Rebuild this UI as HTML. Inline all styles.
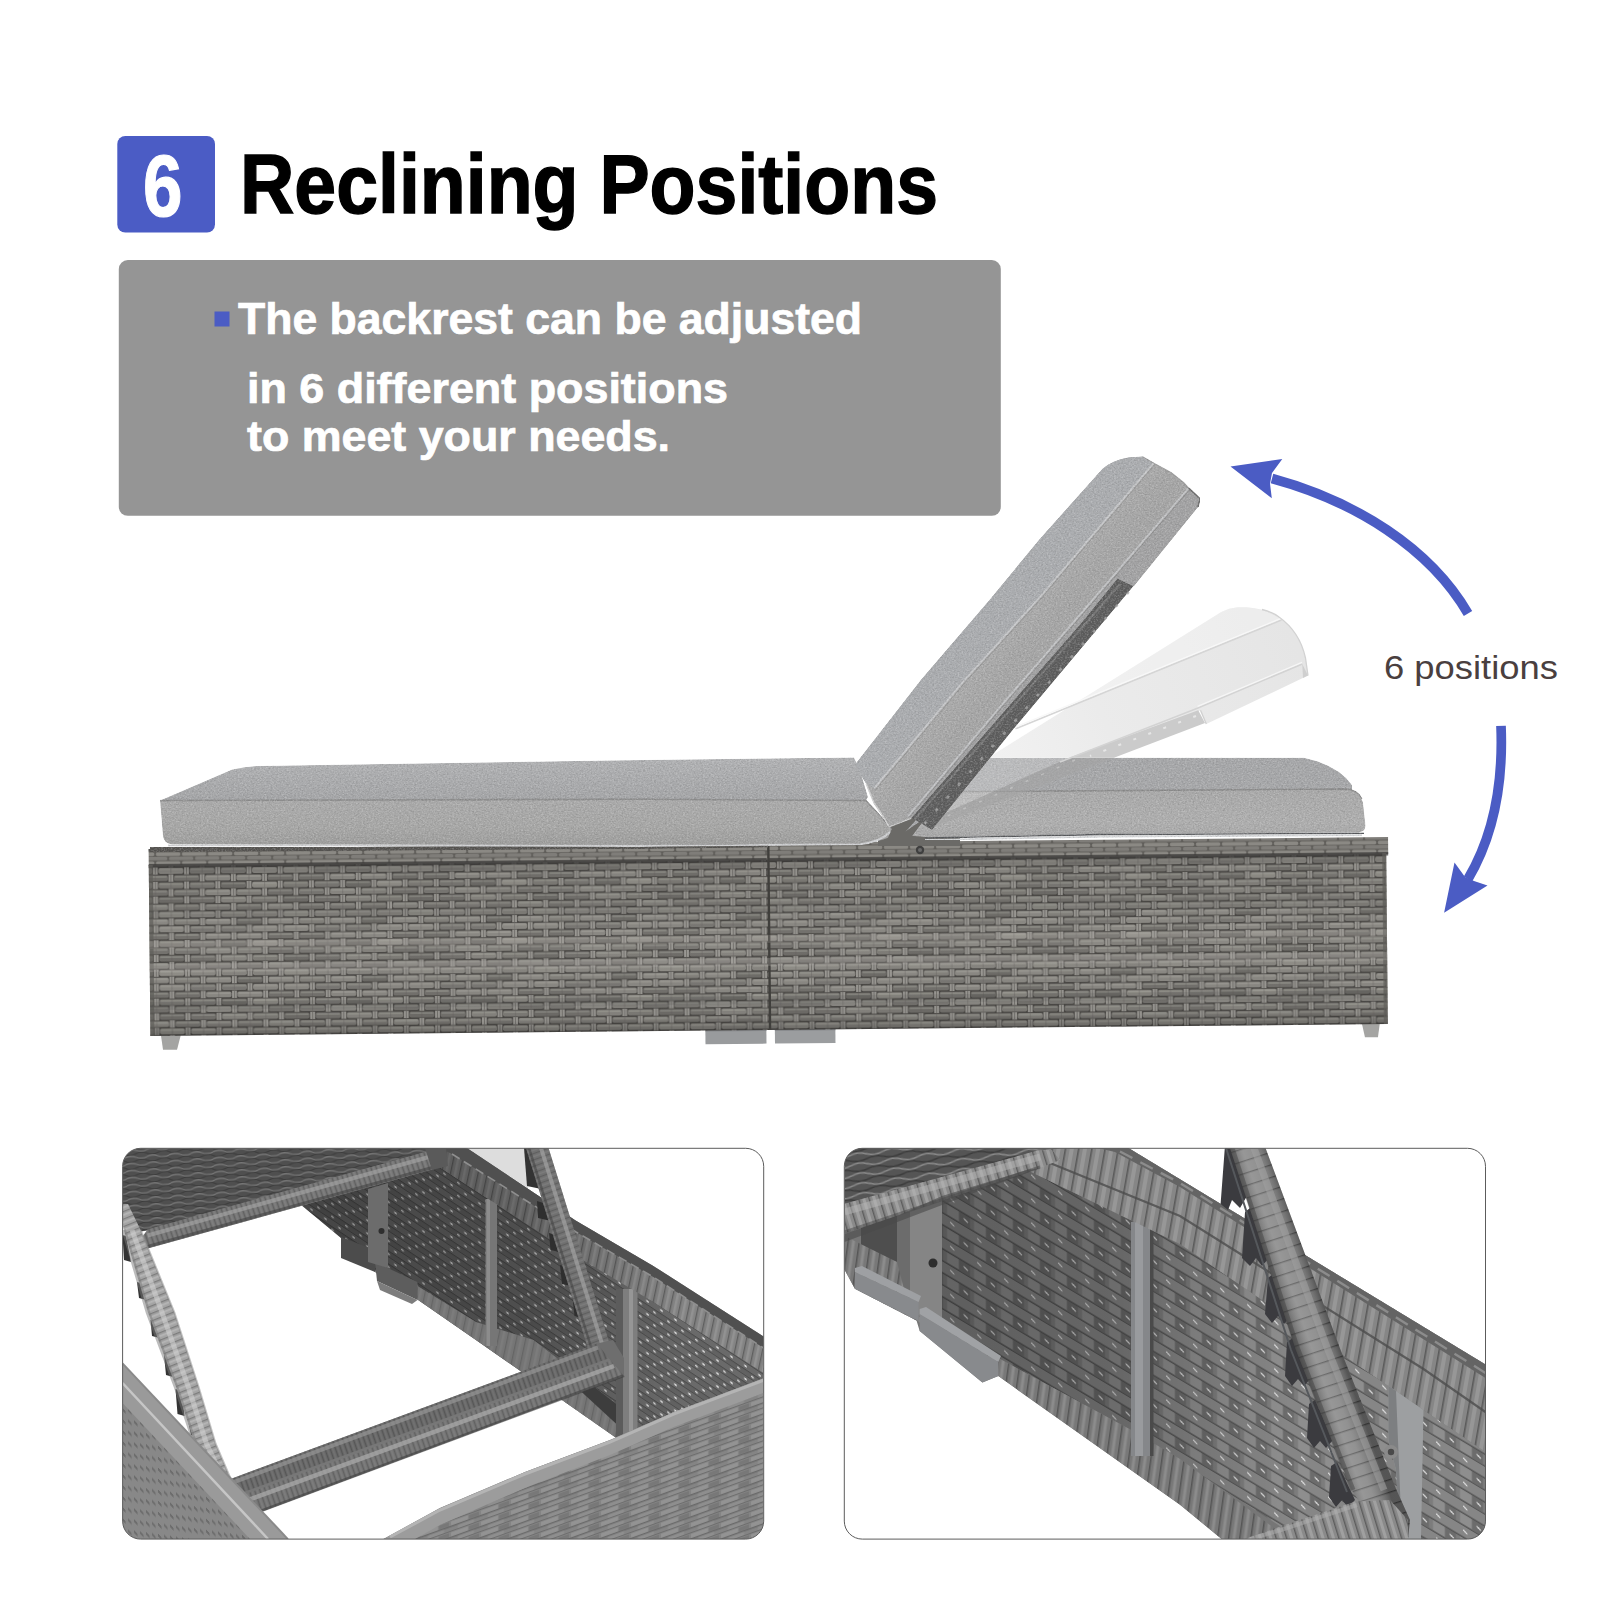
<!DOCTYPE html>
<html lang="en">
<head>
<meta charset="utf-8">
<title>6 Reclining Positions</title>
<style>
  html, body { margin: 0; padding: 0; background: #ffffff; }
  body { width: 1600px; height: 1600px; overflow: hidden; position: relative; font-family: "Liberation Sans", sans-serif; }
  svg { position: absolute; left: 0; top: 0; display: block; }
  text { font-family: "Liberation Sans", sans-serif; }
  .b { font-weight: 700; }
</style>
</head>
<body>
<svg width="1600" height="1600" viewBox="0 0 1600 1600">
  <defs>
    <!-- DEFS -->
    <pattern id="wk" width="124.8" height="58.4" patternUnits="userSpaceOnUse">
      <rect width="124.8" height="58.4" fill="#4a4845"/>
      <rect x="-2.4" y="0" width="4.8" height="7.3" fill="#9b9994"/>
      <rect x="-0.4" y="0" width="0.8" height="7.3" fill="#6a6864"/>
      <rect x="3" y="0.8" width="25.2" height="5.8" rx="1.8" fill="#908e88"/>
      <rect x="4" y="1.4" width="23.2" height="1.9" rx="0.9" fill="#b4b2ac" opacity="0.34"/>
      <rect x="15.1" y="1" width="1" height="5.3" fill="#5e5c58" opacity="0.35"/>
      <rect x="28.8" y="0" width="4.8" height="7.3" fill="#9b9994"/>
      <rect x="30.8" y="0" width="0.8" height="7.3" fill="#6a6864"/>
      <rect x="34.2" y="0.8" width="25.2" height="5.8" rx="1.8" fill="#7e7c77"/>
      <rect x="35.2" y="1.4" width="23.2" height="1.9" rx="0.9" fill="#b4b2ac" opacity="0.34"/>
      <rect x="46.3" y="1" width="1" height="5.3" fill="#5e5c58" opacity="0.35"/>
      <rect x="60" y="0" width="4.8" height="7.3" fill="#9b9994"/>
      <rect x="62" y="0" width="0.8" height="7.3" fill="#6a6864"/>
      <rect x="65.4" y="0.8" width="25.2" height="5.8" rx="1.8" fill="#7a7874"/>
      <rect x="66.4" y="1.4" width="23.2" height="1.9" rx="0.9" fill="#b4b2ac" opacity="0.34"/>
      <rect x="77.5" y="1" width="1" height="5.3" fill="#5e5c58" opacity="0.35"/>
      <rect x="91.2" y="0" width="4.8" height="7.3" fill="#9b9994"/>
      <rect x="93.2" y="0" width="0.8" height="7.3" fill="#6a6864"/>
      <rect x="96.6" y="0.8" width="25.2" height="5.8" rx="1.8" fill="#6f6d69"/>
      <rect x="97.6" y="1.4" width="23.2" height="1.9" rx="0.9" fill="#b4b2ac" opacity="0.34"/>
      <rect x="108.7" y="1" width="1" height="5.3" fill="#5e5c58" opacity="0.35"/>
      <rect x="122.4" y="0" width="4.8" height="7.3" fill="#9b9994"/>
      <rect x="124.4" y="0" width="0.8" height="7.3" fill="#6a6864"/>
      <rect x="-12.6" y="8.1" width="25.2" height="5.8" rx="1.8" fill="#83817c"/>
      <rect x="-11.6" y="8.7" width="23.2" height="1.9" rx="0.9" fill="#b4b2ac" opacity="0.34"/>
      <rect x="-0.5" y="8.3" width="1" height="5.3" fill="#5e5c58" opacity="0.35"/>
      <rect x="13.2" y="7.3" width="4.8" height="7.3" fill="#9b9994"/>
      <rect x="15.2" y="7.3" width="0.8" height="7.3" fill="#6a6864"/>
      <rect x="18.6" y="8.1" width="25.2" height="5.8" rx="1.8" fill="#74726e"/>
      <rect x="19.6" y="8.7" width="23.2" height="1.9" rx="0.9" fill="#b4b2ac" opacity="0.34"/>
      <rect x="30.7" y="8.3" width="1" height="5.3" fill="#5e5c58" opacity="0.35"/>
      <rect x="44.4" y="7.3" width="4.8" height="7.3" fill="#9b9994"/>
      <rect x="46.4" y="7.3" width="0.8" height="7.3" fill="#6a6864"/>
      <rect x="49.8" y="8.1" width="25.2" height="5.8" rx="1.8" fill="#7a7874"/>
      <rect x="50.8" y="8.7" width="23.2" height="1.9" rx="0.9" fill="#b4b2ac" opacity="0.34"/>
      <rect x="61.9" y="8.3" width="1" height="5.3" fill="#5e5c58" opacity="0.35"/>
      <rect x="75.6" y="7.3" width="4.8" height="7.3" fill="#9b9994"/>
      <rect x="77.6" y="7.3" width="0.8" height="7.3" fill="#6a6864"/>
      <rect x="81" y="8.1" width="25.2" height="5.8" rx="1.8" fill="#8b8984"/>
      <rect x="82" y="8.7" width="23.2" height="1.9" rx="0.9" fill="#b4b2ac" opacity="0.34"/>
      <rect x="93.1" y="8.3" width="1" height="5.3" fill="#5e5c58" opacity="0.35"/>
      <rect x="106.8" y="7.3" width="4.8" height="7.3" fill="#9b9994"/>
      <rect x="108.8" y="7.3" width="0.8" height="7.3" fill="#6a6864"/>
      <rect x="112.2" y="8.1" width="25.2" height="5.8" rx="1.8" fill="#83817c"/>
      <rect x="113.2" y="8.7" width="23.2" height="1.9" rx="0.9" fill="#b4b2ac" opacity="0.34"/>
      <rect x="124.3" y="8.3" width="1" height="5.3" fill="#5e5c58" opacity="0.35"/>
      <rect x="-2.4" y="14.6" width="4.8" height="7.3" fill="#9b9994"/>
      <rect x="-0.4" y="14.6" width="0.8" height="7.3" fill="#6a6864"/>
      <rect x="3" y="15.4" width="25.2" height="5.8" rx="1.8" fill="#7e7c77"/>
      <rect x="4" y="16" width="23.2" height="1.9" rx="0.9" fill="#b4b2ac" opacity="0.34"/>
      <rect x="15.1" y="15.6" width="1" height="5.3" fill="#5e5c58" opacity="0.35"/>
      <rect x="28.8" y="14.6" width="4.8" height="7.3" fill="#9b9994"/>
      <rect x="30.8" y="14.6" width="0.8" height="7.3" fill="#6a6864"/>
      <rect x="34.2" y="15.4" width="25.2" height="5.8" rx="1.8" fill="#6f6d69"/>
      <rect x="35.2" y="16" width="23.2" height="1.9" rx="0.9" fill="#b4b2ac" opacity="0.34"/>
      <rect x="46.3" y="15.6" width="1" height="5.3" fill="#5e5c58" opacity="0.35"/>
      <rect x="60" y="14.6" width="4.8" height="7.3" fill="#9b9994"/>
      <rect x="62" y="14.6" width="0.8" height="7.3" fill="#6a6864"/>
      <rect x="65.4" y="15.4" width="25.2" height="5.8" rx="1.8" fill="#74726e"/>
      <rect x="66.4" y="16" width="23.2" height="1.9" rx="0.9" fill="#b4b2ac" opacity="0.34"/>
      <rect x="77.5" y="15.6" width="1" height="5.3" fill="#5e5c58" opacity="0.35"/>
      <rect x="91.2" y="14.6" width="4.8" height="7.3" fill="#9b9994"/>
      <rect x="93.2" y="14.6" width="0.8" height="7.3" fill="#6a6864"/>
      <rect x="96.6" y="15.4" width="25.2" height="5.8" rx="1.8" fill="#878580"/>
      <rect x="97.6" y="16" width="23.2" height="1.9" rx="0.9" fill="#b4b2ac" opacity="0.34"/>
      <rect x="108.7" y="15.6" width="1" height="5.3" fill="#5e5c58" opacity="0.35"/>
      <rect x="122.4" y="14.6" width="4.8" height="7.3" fill="#9b9994"/>
      <rect x="124.4" y="14.6" width="0.8" height="7.3" fill="#6a6864"/>
      <rect x="-12.6" y="22.7" width="25.2" height="5.8" rx="1.8" fill="#74726e"/>
      <rect x="-11.6" y="23.3" width="23.2" height="1.9" rx="0.9" fill="#b4b2ac" opacity="0.34"/>
      <rect x="-0.5" y="22.9" width="1" height="5.3" fill="#5e5c58" opacity="0.35"/>
      <rect x="13.2" y="21.9" width="4.8" height="7.3" fill="#9b9994"/>
      <rect x="15.2" y="21.9" width="0.8" height="7.3" fill="#6a6864"/>
      <rect x="18.6" y="22.7" width="25.2" height="5.8" rx="1.8" fill="#83817c"/>
      <rect x="19.6" y="23.3" width="23.2" height="1.9" rx="0.9" fill="#b4b2ac" opacity="0.34"/>
      <rect x="30.7" y="22.9" width="1" height="5.3" fill="#5e5c58" opacity="0.35"/>
      <rect x="44.4" y="21.9" width="4.8" height="7.3" fill="#9b9994"/>
      <rect x="46.4" y="21.9" width="0.8" height="7.3" fill="#6a6864"/>
      <rect x="49.8" y="22.7" width="25.2" height="5.8" rx="1.8" fill="#74726e"/>
      <rect x="50.8" y="23.3" width="23.2" height="1.9" rx="0.9" fill="#b4b2ac" opacity="0.34"/>
      <rect x="61.9" y="22.9" width="1" height="5.3" fill="#5e5c58" opacity="0.35"/>
      <rect x="75.6" y="21.9" width="4.8" height="7.3" fill="#9b9994"/>
      <rect x="77.6" y="21.9" width="0.8" height="7.3" fill="#6a6864"/>
      <rect x="81" y="22.7" width="25.2" height="5.8" rx="1.8" fill="#7a7874"/>
      <rect x="82" y="23.3" width="23.2" height="1.9" rx="0.9" fill="#b4b2ac" opacity="0.34"/>
      <rect x="93.1" y="22.9" width="1" height="5.3" fill="#5e5c58" opacity="0.35"/>
      <rect x="106.8" y="21.9" width="4.8" height="7.3" fill="#9b9994"/>
      <rect x="108.8" y="21.9" width="0.8" height="7.3" fill="#6a6864"/>
      <rect x="112.2" y="22.7" width="25.2" height="5.8" rx="1.8" fill="#74726e"/>
      <rect x="113.2" y="23.3" width="23.2" height="1.9" rx="0.9" fill="#b4b2ac" opacity="0.34"/>
      <rect x="124.3" y="22.9" width="1" height="5.3" fill="#5e5c58" opacity="0.35"/>
      <rect x="-2.4" y="29.2" width="4.8" height="7.3" fill="#9b9994"/>
      <rect x="-0.4" y="29.2" width="0.8" height="7.3" fill="#6a6864"/>
      <rect x="3" y="30" width="25.2" height="5.8" rx="1.8" fill="#878580"/>
      <rect x="4" y="30.6" width="23.2" height="1.9" rx="0.9" fill="#b4b2ac" opacity="0.34"/>
      <rect x="15.1" y="30.2" width="1" height="5.3" fill="#5e5c58" opacity="0.35"/>
      <rect x="28.8" y="29.2" width="4.8" height="7.3" fill="#9b9994"/>
      <rect x="30.8" y="29.2" width="0.8" height="7.3" fill="#6a6864"/>
      <rect x="34.2" y="30" width="25.2" height="5.8" rx="1.8" fill="#908e88"/>
      <rect x="35.2" y="30.6" width="23.2" height="1.9" rx="0.9" fill="#b4b2ac" opacity="0.34"/>
      <rect x="46.3" y="30.2" width="1" height="5.3" fill="#5e5c58" opacity="0.35"/>
      <rect x="60" y="29.2" width="4.8" height="7.3" fill="#9b9994"/>
      <rect x="62" y="29.2" width="0.8" height="7.3" fill="#6a6864"/>
      <rect x="65.4" y="30" width="25.2" height="5.8" rx="1.8" fill="#8b8984"/>
      <rect x="66.4" y="30.6" width="23.2" height="1.9" rx="0.9" fill="#b4b2ac" opacity="0.34"/>
      <rect x="77.5" y="30.2" width="1" height="5.3" fill="#5e5c58" opacity="0.35"/>
      <rect x="91.2" y="29.2" width="4.8" height="7.3" fill="#9b9994"/>
      <rect x="93.2" y="29.2" width="0.8" height="7.3" fill="#6a6864"/>
      <rect x="96.6" y="30" width="25.2" height="5.8" rx="1.8" fill="#878580"/>
      <rect x="97.6" y="30.6" width="23.2" height="1.9" rx="0.9" fill="#b4b2ac" opacity="0.34"/>
      <rect x="108.7" y="30.2" width="1" height="5.3" fill="#5e5c58" opacity="0.35"/>
      <rect x="122.4" y="29.2" width="4.8" height="7.3" fill="#9b9994"/>
      <rect x="124.4" y="29.2" width="0.8" height="7.3" fill="#6a6864"/>
      <rect x="-12.6" y="37.3" width="25.2" height="5.8" rx="1.8" fill="#6f6d69"/>
      <rect x="-11.6" y="37.9" width="23.2" height="1.9" rx="0.9" fill="#b4b2ac" opacity="0.34"/>
      <rect x="-0.5" y="37.5" width="1" height="5.3" fill="#5e5c58" opacity="0.35"/>
      <rect x="13.2" y="36.5" width="4.8" height="7.3" fill="#9b9994"/>
      <rect x="15.2" y="36.5" width="0.8" height="7.3" fill="#6a6864"/>
      <rect x="18.6" y="37.3" width="25.2" height="5.8" rx="1.8" fill="#8b8984"/>
      <rect x="19.6" y="37.9" width="23.2" height="1.9" rx="0.9" fill="#b4b2ac" opacity="0.34"/>
      <rect x="30.7" y="37.5" width="1" height="5.3" fill="#5e5c58" opacity="0.35"/>
      <rect x="44.4" y="36.5" width="4.8" height="7.3" fill="#9b9994"/>
      <rect x="46.4" y="36.5" width="0.8" height="7.3" fill="#6a6864"/>
      <rect x="49.8" y="37.3" width="25.2" height="5.8" rx="1.8" fill="#83817c"/>
      <rect x="50.8" y="37.9" width="23.2" height="1.9" rx="0.9" fill="#b4b2ac" opacity="0.34"/>
      <rect x="61.9" y="37.5" width="1" height="5.3" fill="#5e5c58" opacity="0.35"/>
      <rect x="75.6" y="36.5" width="4.8" height="7.3" fill="#9b9994"/>
      <rect x="77.6" y="36.5" width="0.8" height="7.3" fill="#6a6864"/>
      <rect x="81" y="37.3" width="25.2" height="5.8" rx="1.8" fill="#8b8984"/>
      <rect x="82" y="37.9" width="23.2" height="1.9" rx="0.9" fill="#b4b2ac" opacity="0.34"/>
      <rect x="93.1" y="37.5" width="1" height="5.3" fill="#5e5c58" opacity="0.35"/>
      <rect x="106.8" y="36.5" width="4.8" height="7.3" fill="#9b9994"/>
      <rect x="108.8" y="36.5" width="0.8" height="7.3" fill="#6a6864"/>
      <rect x="112.2" y="37.3" width="25.2" height="5.8" rx="1.8" fill="#6f6d69"/>
      <rect x="113.2" y="37.9" width="23.2" height="1.9" rx="0.9" fill="#b4b2ac" opacity="0.34"/>
      <rect x="124.3" y="37.5" width="1" height="5.3" fill="#5e5c58" opacity="0.35"/>
      <rect x="-2.4" y="43.8" width="4.8" height="7.3" fill="#9b9994"/>
      <rect x="-0.4" y="43.8" width="0.8" height="7.3" fill="#6a6864"/>
      <rect x="3" y="44.6" width="25.2" height="5.8" rx="1.8" fill="#8b8984"/>
      <rect x="4" y="45.2" width="23.2" height="1.9" rx="0.9" fill="#b4b2ac" opacity="0.34"/>
      <rect x="15.1" y="44.8" width="1" height="5.3" fill="#5e5c58" opacity="0.35"/>
      <rect x="28.8" y="43.8" width="4.8" height="7.3" fill="#9b9994"/>
      <rect x="30.8" y="43.8" width="0.8" height="7.3" fill="#6a6864"/>
      <rect x="34.2" y="44.6" width="25.2" height="5.8" rx="1.8" fill="#8b8984"/>
      <rect x="35.2" y="45.2" width="23.2" height="1.9" rx="0.9" fill="#b4b2ac" opacity="0.34"/>
      <rect x="46.3" y="44.8" width="1" height="5.3" fill="#5e5c58" opacity="0.35"/>
      <rect x="60" y="43.8" width="4.8" height="7.3" fill="#9b9994"/>
      <rect x="62" y="43.8" width="0.8" height="7.3" fill="#6a6864"/>
      <rect x="65.4" y="44.6" width="25.2" height="5.8" rx="1.8" fill="#7a7874"/>
      <rect x="66.4" y="45.2" width="23.2" height="1.9" rx="0.9" fill="#b4b2ac" opacity="0.34"/>
      <rect x="77.5" y="44.8" width="1" height="5.3" fill="#5e5c58" opacity="0.35"/>
      <rect x="91.2" y="43.8" width="4.8" height="7.3" fill="#9b9994"/>
      <rect x="93.2" y="43.8" width="0.8" height="7.3" fill="#6a6864"/>
      <rect x="96.6" y="44.6" width="25.2" height="5.8" rx="1.8" fill="#7a7874"/>
      <rect x="97.6" y="45.2" width="23.2" height="1.9" rx="0.9" fill="#b4b2ac" opacity="0.34"/>
      <rect x="108.7" y="44.8" width="1" height="5.3" fill="#5e5c58" opacity="0.35"/>
      <rect x="122.4" y="43.8" width="4.8" height="7.3" fill="#9b9994"/>
      <rect x="124.4" y="43.8" width="0.8" height="7.3" fill="#6a6864"/>
      <rect x="-12.6" y="51.9" width="25.2" height="5.8" rx="1.8" fill="#8b8984"/>
      <rect x="-11.6" y="52.5" width="23.2" height="1.9" rx="0.9" fill="#b4b2ac" opacity="0.34"/>
      <rect x="-0.5" y="52.1" width="1" height="5.3" fill="#5e5c58" opacity="0.35"/>
      <rect x="13.2" y="51.1" width="4.8" height="7.3" fill="#9b9994"/>
      <rect x="15.2" y="51.1" width="0.8" height="7.3" fill="#6a6864"/>
      <rect x="18.6" y="51.9" width="25.2" height="5.8" rx="1.8" fill="#74726e"/>
      <rect x="19.6" y="52.5" width="23.2" height="1.9" rx="0.9" fill="#b4b2ac" opacity="0.34"/>
      <rect x="30.7" y="52.1" width="1" height="5.3" fill="#5e5c58" opacity="0.35"/>
      <rect x="44.4" y="51.1" width="4.8" height="7.3" fill="#9b9994"/>
      <rect x="46.4" y="51.1" width="0.8" height="7.3" fill="#6a6864"/>
      <rect x="49.8" y="51.9" width="25.2" height="5.8" rx="1.8" fill="#74726e"/>
      <rect x="50.8" y="52.5" width="23.2" height="1.9" rx="0.9" fill="#b4b2ac" opacity="0.34"/>
      <rect x="61.9" y="52.1" width="1" height="5.3" fill="#5e5c58" opacity="0.35"/>
      <rect x="75.6" y="51.1" width="4.8" height="7.3" fill="#9b9994"/>
      <rect x="77.6" y="51.1" width="0.8" height="7.3" fill="#6a6864"/>
      <rect x="81" y="51.9" width="25.2" height="5.8" rx="1.8" fill="#8b8984"/>
      <rect x="82" y="52.5" width="23.2" height="1.9" rx="0.9" fill="#b4b2ac" opacity="0.34"/>
      <rect x="93.1" y="52.1" width="1" height="5.3" fill="#5e5c58" opacity="0.35"/>
      <rect x="106.8" y="51.1" width="4.8" height="7.3" fill="#9b9994"/>
      <rect x="108.8" y="51.1" width="0.8" height="7.3" fill="#6a6864"/>
      <rect x="112.2" y="51.9" width="25.2" height="5.8" rx="1.8" fill="#8b8984"/>
      <rect x="113.2" y="52.5" width="23.2" height="1.9" rx="0.9" fill="#b4b2ac" opacity="0.34"/>
      <rect x="124.3" y="52.1" width="1" height="5.3" fill="#5e5c58" opacity="0.35"/>
      </pattern>
    <pattern id="wkrim" width="26" height="9" patternUnits="userSpaceOnUse">
      <rect width="26" height="9" fill="#605e5a"/>
      <rect x="0.8" y="0.6" width="24.4" height="3.6" rx="1.6" fill="#8b8984"/>
      <rect x="-12.2" y="5" width="24.4" height="3.6" rx="1.6" fill="#7f7d79"/>
      <rect x="13.8" y="5" width="24.4" height="3.6" rx="1.6" fill="#7f7d79"/>
    </pattern>
    <linearGradient id="wkshade" x1="0" y1="0" x2="0" y2="1">
      <stop offset="0" stop-color="#000" stop-opacity="0.22"/>
      <stop offset="0.06" stop-color="#000" stop-opacity="0.05"/>
      <stop offset="0.5" stop-color="#000" stop-opacity="0"/>
      <stop offset="0.93" stop-color="#000" stop-opacity="0.04"/>
      <stop offset="1" stop-color="#000" stop-opacity="0.25"/>
    </linearGradient>
    <filter id="grain" x="0" y="0" width="100%" height="100%" color-interpolation-filters="sRGB">
      <feTurbulence type="fractalNoise" baseFrequency="0.55 0.7" numOctaves="2" seed="4" result="n"/>
      <feColorMatrix in="n" type="matrix" values="0 0 0 0 1  0 0 0 0 1  0 0 0 0 1  0.55 0 0 0 -0.23" result="lt"/>
      <feColorMatrix in="n" type="matrix" values="0 0 0 0 0.3  0 0 0 0 0.3  0 0 0 0 0.3  0 -0.5 0 0 0.27" result="dk"/>
      <feMerge result="m"><feMergeNode in="SourceGraphic"/><feMergeNode in="lt"/><feMergeNode in="dk"/></feMerge>
      <feComposite in="m" in2="SourceGraphic" operator="in"/>
    </filter>
    <clipPath id="clipL"><rect x="122.6" y="1148.3" width="641.1" height="390.8" rx="18"/></clipPath>
    <clipPath id="clipR"><rect x="844.3" y="1148.3" width="641.2" height="390.8" rx="18"/></clipPath>
    <!-- dotted inner wall (perspective skew) -->
    <pattern id="wallL" width="14" height="13" patternUnits="userSpaceOnUse" patternTransform="matrix(1 0.66 0 1 0 0)">
      <rect width="14" height="13" fill="#626262"/>
      <rect x="0" y="0" width="14" height="6" fill="#6a6a6a"/>
      <rect x="0" y="6" width="14" height="1.2" fill="#4c4c4c"/>
      <rect x="0" y="12" width="14" height="1" fill="#4e4e4e"/>
      <ellipse cx="3.5" cy="3" rx="1.5" ry="1" fill="#dedede"/>
      <ellipse cx="10.5" cy="9.5" rx="1.5" ry="1" fill="#d6d6d6"/>
    </pattern>
    <pattern id="wallR" width="27" height="24" patternUnits="userSpaceOnUse" patternTransform="matrix(1 0.6 0 1 0 0)">
      <rect width="27" height="24" fill="#7c7c7c"/>
      <rect x="0" y="0" width="27" height="10.5" fill="#868686"/>
      <rect x="2" y="12" width="12" height="10" fill="#8e8e8e"/>
      <rect x="14" y="12" width="11" height="10" fill="#6c6c6c"/>
      <rect x="0" y="10.5" width="27" height="1.6" fill="#555555"/>
      <rect x="0" y="22.5" width="27" height="1.5" fill="#565656"/>
      <rect x="5" y="4" width="4.5" height="1.6" fill="#e2e2e2" transform="rotate(25 7 5)"/>
      <rect x="18.5" y="16" width="4.5" height="1.6" fill="#dcdcdc" transform="rotate(25 20 17)"/>
    </pattern>
    <!-- strand wraps -->
    <pattern id="wrapA" width="9" height="9" patternUnits="userSpaceOnUse" patternTransform="rotate(12)">
      <rect width="9" height="9" fill="#838383"/>
      <rect x="0" y="0" width="1.3" height="9" fill="#5e5e5e"/>
      <rect x="4" y="0" width="2.5" height="9" fill="#929292"/>
    </pattern>
    <pattern id="wrapB" width="6" height="6" patternUnits="userSpaceOnUse" patternTransform="rotate(70)">
      <rect width="6" height="6" fill="#6e6e6e"/>
      <rect x="0" y="0" width="1" height="6" fill="#505050"/>
      <rect x="2.6" y="0" width="1.6" height="6" fill="#848484"/>
    </pattern>
    <pattern id="wrapB2" width="5" height="5" patternUnits="userSpaceOnUse" patternTransform="rotate(-19)">
      <rect width="5" height="5" fill="#6e6e6e"/>
      <rect x="0" y="0" width="0.9" height="5" fill="#4c4c4c"/>
      <rect x="2.2" y="0" width="1.4" height="5" fill="#868686"/>
    </pattern>
    <pattern id="wrapC" width="7" height="7" patternUnits="userSpaceOnUse" patternTransform="rotate(-22)">
      <rect width="7" height="7" fill="#a4a4a4"/>
      <rect x="0" y="0" width="7" height="1.3" fill="#7c7c7c"/>
      <rect x="0" y="3" width="7" height="1.6" fill="#b6b6b6"/>
    </pattern>
    <pattern id="darkWeave" width="22" height="7" patternUnits="userSpaceOnUse" patternTransform="rotate(-4)">
      <rect width="22" height="7" fill="#4f4f4f"/>
      <path d="M0 2 Q5.5 -0.5 11 2 T22 2" fill="none" stroke="#767676" stroke-width="1.3"/>
      <path d="M0 5.5 Q5.5 8 11 5.5 T22 5.5" fill="none" stroke="#3c3c3c" stroke-width="1.2"/>
    </pattern>
    <pattern id="panelF" width="30" height="11" patternUnits="userSpaceOnUse" patternTransform="matrix(1 -0.36 0 1 0 0)">
      <rect width="30" height="11" fill="#848484"/>
      <rect x="1" y="0.8" width="17" height="4" fill="#939393"/>
      <rect x="19" y="0.8" width="10" height="4" fill="#787878"/>
      <rect x="0" y="5.2" width="30" height="1.2" fill="#636363"/>
      <rect x="8" y="6.6" width="16" height="3.8" fill="#8e8e8e"/>
      <rect x="0" y="10.2" width="30" height="0.8" fill="#686868"/>
    </pattern>
    <pattern id="panelFL" width="12" height="11" patternUnits="userSpaceOnUse" patternTransform="matrix(1 1.06 0 1 0 0)">
      <rect width="12" height="11" fill="#888888"/>
      <rect x="2" y="2" width="3.6" height="2.8" fill="#6c6c6c"/>
      <rect x="8" y="7.5" width="3.6" height="2.8" fill="#6e6e6e"/>
    </pattern>
    <pattern id="wrapR1" width="13" height="13" patternUnits="userSpaceOnUse" patternTransform="rotate(10)">
      <rect width="13" height="13" fill="#868686"/>
      <rect x="0" y="0" width="1.6" height="13" fill="#5a5a5a"/>
      <rect x="5" y="0" width="4" height="13" fill="#979797"/>
    </pattern>
    <pattern id="wrapR2" width="11" height="11" patternUnits="userSpaceOnUse" patternTransform="rotate(8)">
      <rect width="11" height="11" fill="#787878"/>
      <rect x="0" y="0" width="1.5" height="11" fill="#555555"/>
      <rect x="4.5" y="0" width="3" height="11" fill="#8c8c8c"/>
    </pattern>
    <pattern id="wrapR3" width="10" height="10" patternUnits="userSpaceOnUse" patternTransform="rotate(-17)">
      <rect width="10" height="10" fill="#8a8a8a"/>
      <rect x="0" y="0" width="1.4" height="10" fill="#5c5c5c"/>
      <rect x="4" y="0" width="3" height="10" fill="#a0a0a0"/>
    </pattern>
    <pattern id="tubeBands" width="12" height="12" patternUnits="userSpaceOnUse" patternTransform="rotate(-18)">
      <rect width="12" height="12" fill="#7a7a7a"/>
      <rect x="0" y="0" width="12" height="1.3" fill="#484848"/>
    </pattern>
    <linearGradient id="tubeShade" gradientUnits="userSpaceOnUse" x1="1228" y1="1160" x2="1268" y2="1146">
      <stop offset="0" stop-color="#000" stop-opacity="0.35"/>
      <stop offset="0.4" stop-color="#fff" stop-opacity="0.22"/>
      <stop offset="0.6" stop-color="#fff" stop-opacity="0.18"/>
      <stop offset="1" stop-color="#000" stop-opacity="0.3"/>
    </linearGradient>
    <pattern id="darkWeaveR" width="34" height="10" patternUnits="userSpaceOnUse" patternTransform="rotate(-8)">
      <rect width="34" height="10" fill="#555555"/>
      <path d="M0 3 Q8.5 -0.5 17 3 T34 3" fill="none" stroke="#8a8a8a" stroke-width="1.6"/>
      <path d="M0 8 Q8.5 11 17 8 T34 8" fill="none" stroke="#3c3c3c" stroke-width="1.4"/>
    </pattern>
    <linearGradient id="ghostG" gradientUnits="userSpaceOnUse" x1="1000" y1="760" x2="1290" y2="630">
      <stop offset="0" stop-color="#f1f1f1"/>
      <stop offset="0.35" stop-color="#ebebeb"/>
      <stop offset="1" stop-color="#e5e5e5"/>
    </linearGradient>
    <linearGradient id="upSide" gradientUnits="userSpaceOnUse" x1="1000" y1="640" x2="1045" y2="678">
      <stop offset="0" stop-color="#a9a9a9"/>
      <stop offset="0.5" stop-color="#a4a4a4"/>
      <stop offset="1" stop-color="#a6a6a6"/>
    </linearGradient>
    <linearGradient id="cushSideR" x1="0" y1="0" x2="0" y2="1">
      <stop offset="0" stop-color="#a8a8a8"/>
      <stop offset="0.7" stop-color="#adadad"/>
      <stop offset="1" stop-color="#a6a6a6"/>
    </linearGradient>
    <linearGradient id="shadeL" gradientUnits="userSpaceOnUse" x1="330" y1="0" x2="680" y2="0">
      <stop offset="0" stop-color="#000" stop-opacity="0.34"/>
      <stop offset="0.55" stop-color="#000" stop-opacity="0.26"/>
      <stop offset="1" stop-color="#000" stop-opacity="0"/>
    </linearGradient>
    <linearGradient id="shadeR" gradientUnits="userSpaceOnUse" x1="940" y1="0" x2="1290" y2="0">
      <stop offset="0" stop-color="#000" stop-opacity="0.3"/>
      <stop offset="0.5" stop-color="#000" stop-opacity="0.24"/>
      <stop offset="1" stop-color="#000" stop-opacity="0"/>
    </linearGradient>
    <linearGradient id="cushTop" x1="0" y1="0" x2="0" y2="1">
      <stop offset="0" stop-color="#b0b1b3"/>
      <stop offset="1" stop-color="#a3a4a6"/>
    </linearGradient>
    <linearGradient id="cushSide" x1="0" y1="0" x2="0" y2="1">
      <stop offset="0" stop-color="#a9a9a9"/>
      <stop offset="0.6" stop-color="#a6a6a5"/>
      <stop offset="1" stop-color="#9c9c9b"/>
    </linearGradient>
  </defs>

  <!-- ===== HEADER ===== -->
  <g id="header">
    <rect x="117.3" y="136" width="97.7" height="96.6" rx="8" fill="#4b5cc5"/>
    <text class="b" x="143" y="215.5" font-size="88" fill="#ffffff" stroke="#ffffff" stroke-width="1.2" textLength="39.5" lengthAdjust="spacingAndGlyphs">6</text>
    <text class="b" x="240" y="212.6" font-size="84" fill="#000000" stroke="#000000" stroke-width="1.4" textLength="698" lengthAdjust="spacingAndGlyphs">Reclining Positions</text>
  </g>

  <!-- ===== GREY INFO BOX ===== -->
  <g id="info">
    <rect x="118.8" y="260" width="882" height="255.8" rx="9" fill="#959595"/>
    <rect x="214.5" y="311.5" width="15" height="15" fill="#4b5cc4"/>
    <text class="b" x="238" y="334" font-size="44" fill="#ffffff" stroke="#ffffff" stroke-width="0.7" textLength="624" lengthAdjust="spacingAndGlyphs">The backrest can be adjusted</text>
    <text class="b" x="247" y="403" font-size="42" fill="#ffffff" stroke="#ffffff" stroke-width="0.7" textLength="481" lengthAdjust="spacingAndGlyphs">in 6 different positions</text>
    <text class="b" x="247" y="451" font-size="42" fill="#ffffff" stroke="#ffffff" stroke-width="0.7" textLength="423" lengthAdjust="spacingAndGlyphs">to meet your needs.</text>
  </g>

  <!-- ===== LOUNGER ===== -->
  <g id="lounger">
    <!-- wicker base (slightly tilted) -->
    <g transform="rotate(-0.55 768 940)">
      <!-- legs -->
      <path d="M160 1029 L180 1029 L176 1044 L162 1044 Z" fill="#a4a4a2"/>
      <rect x="704.5" y="1028" width="61" height="15.6" fill="#999b9d"/>
      <rect x="704.5" y="1028" width="61" height="3" fill="#85878a"/>
      <rect x="774" y="1028" width="60.5" height="15.6" fill="#9b9d9f"/>
      <rect x="774" y="1028" width="60.5" height="3" fill="#87898c"/>
      <path d="M1361 1029 L1379 1029 L1377 1043 L1364 1043 Z" fill="#a4a4a2"/>
      <!-- left section -->
      <rect x="149.5" y="859" width="620" height="171" fill="url(#wk)"/>
      <rect x="149.5" y="859" width="620" height="171" fill="url(#wkshade)"/>
      <rect x="149.5" y="843" width="620" height="17" fill="url(#wkrim)"/>
      <rect x="149.5" y="858" width="618" height="3.5" fill="#3f3e3c" opacity="0.75"/>
      <rect x="149.5" y="843" width="618" height="2.5" fill="#4a4947" opacity="0.8"/>
      <rect x="149.5" y="859" width="4" height="171" fill="#5f5e5a" opacity="0.7"/>
      <!-- right section -->
      <rect x="769" y="859" width="618" height="171" fill="url(#wk)"/>
      <rect x="769" y="859" width="618" height="171" fill="url(#wkshade)"/>
      <rect x="769" y="843" width="620" height="17" fill="url(#wkrim)"/>
      <rect x="769" y="858" width="620" height="3.5" fill="#3f3e3c" opacity="0.75"/>
      <rect x="1383" y="859" width="4" height="171" fill="#5f5e5a" opacity="0.7"/>
      <!-- split -->
      <rect x="768" y="846" width="2.4" height="184" fill="#403f3c"/>
      <!-- subtle colour bands -->
      <rect x="149.5" y="935" width="1237.5" height="8" fill="#b0aea8" opacity="0.22"/>
      <rect x="149.5" y="958" width="1237.5" height="8" fill="#b0aea8" opacity="0.28"/>
      <rect x="149.5" y="905" width="1237.5" height="8" fill="#3a3a38" opacity="0.12"/>
      <rect x="149.5" y="996" width="1237.5" height="8" fill="#3a3a38" opacity="0.12"/>
    </g>

    <!-- hinge filler -->
    <path d="M878 838 L886 818 L932 812 L960 838 L960 846 L878 846 Z" fill="#6b6a67"/>
    <!-- ===== cushions ===== -->
    <!-- right flat cushion (under the ghost) -->
    <g id="cushR" filter="url(#grain)">
      <path d="M905 832 L940 793 L970 757.7 L1304 757.7 Q1338 765 1352 785 L1352 791 L960 794 Z" fill="#a5a6a8"/>
      <path d="M912 836 L945 791.5 L1345 789 Q1358 789.5 1363 802 L1365.5 825 Q1366 832 1358 832.5 L1100 834 L930 837.5 Z" fill="url(#cushSideR)"/>
      <path d="M962 791.5 L1345 789 Q1358 789.5 1362 799" fill="none" stroke="#8a8a8a" stroke-width="1.5"/>
      <path d="M925 840 L1100 836.8 L1362 835.2" fill="none" stroke="#d4d6d8" stroke-width="2"/>
      <path d="M925 838 L1100 834.6 L1364 833.2" fill="none" stroke="#55575a" stroke-width="1.6"/>
    </g>
    <!-- ghost cushion -->
    <g id="ghost">
      <!-- translucent overlay on the flat cushion -->
      <path d="M975 757.7 L1114 757.7 L960 816.6 L931 828 Z" fill="#ffffff" opacity="0.22"/>
      <path d="M1069 757.7 L1114 757.7 L960 816.6 L931 828 L934 818 Z" fill="#8c8c8c" opacity="0.45"/>
      <path d="M1075 760 L945 817" fill="none" stroke="#c4c4c4" stroke-width="1.5" stroke-dasharray="3 14" opacity="0.8"/>
      <!-- body above the flat cushion -->
      <path d="M988 757.7 L1221.3 612 Q1229 608 1237.5 607.3 C1255 606.5 1268 610.5 1279 617 C1293 627 1302 642 1305.5 658 L1308 675.6 L1206.3 724.1 L1200.5 710.3 L1114 757.7 Z" fill="url(#ghostG)"/>
      <!-- top face (slightly lighter) -->
      <path d="M988 757.7 L1221.3 612 Q1229 608 1237.5 607.3 C1255 606.5 1268 610.5 1281.5 619.5 L1015.5 728.8 Z" fill="#ffffff" opacity="0.3"/>
      <!-- frame strip -->
      <path d="M1198.2 710.3 L1205 723 L1114 757.7 L1069 757.7 Z" fill="#cbcbcb"/>
      <path d="M1196 716 L1090 756" fill="none" stroke="#e6e6e6" stroke-width="2" stroke-dasharray="3 13"/>
      <!-- piping + outline -->
      <path d="M1281.5 620 L1015.5 728.8" fill="none" stroke="#d5d5d5" stroke-width="1.5"/>
      <path d="M1281 618.4 L1015 727.2" fill="none" stroke="#f8f8f8" stroke-width="1.3"/>
      <path d="M1302.3 664 L1198 708 L1060 762" fill="none" stroke="#d3d3d3" stroke-width="1.4"/>
      <path d="M1302 662.4 L1197.6 706.4" fill="none" stroke="#f6f6f6" stroke-width="1.2"/>
      <path d="M1262 609.5 C1270 611.5 1275 614 1279 617 C1293 627 1302 642 1305.5 658 L1308 675.6" fill="none" stroke="#d2d2d2" stroke-width="1.3"/>
      <path d="M1302.3 664 L1308 675.6 L1303 678 Z" fill="#cfcfcf"/>
      <path d="M1200.5 710.3 L1206.3 724.1" fill="none" stroke="#d0d0d0" stroke-width="1.3"/>
    </g>
    <!-- left flat cushion -->
    <g id="cushL" filter="url(#grain)">
      <path d="M160 800.5 L232 769.5 Q244 766.5 256 766 L640 760 L854 757.5 L860 770 L868 797 L866 800.5 L640 799.3 Z" fill="url(#cushTop)"/>
      <path d="M160 800.5 L640 799.3 L866 800.5 Q876 812 892 829 L888 838 Q876 843 860 843.7 L640 845.2 L172 844.6 Q163.5 843.5 162.8 835 Z" fill="url(#cushSide)"/>
      <path d="M160 800.5 L640 799.3 L866 800.5 Q878 813 891 828" fill="none" stroke="#8b8b8b" stroke-width="1.6"/>
      <path d="M168 845.4 L640 846 L860 844.3 Q880 842 890 832" fill="none" stroke="#cfd0d2" stroke-width="2"/>
      <path d="M150 847 L640 847 L768 845.8 L768 847.4 L640 849 L150 852.2 Z" fill="#53514e"/>
    </g>
    <!-- upright cushion -->
    <g id="cushUp" filter="url(#grain)">
      <!-- frame strip -->
      <path d="M1112 574 L1137 582 L1012 731 L932 830 L911.5 817.7 Z" fill="#5b5b5b"/>
      <path d="M1129 592 L924 824" fill="none" stroke="#a2a2a2" stroke-width="2.6" stroke-dasharray="3 14" opacity="0.85"/>
      <path d="M1120 584 L915 819" fill="none" stroke="#7a7a7a" stroke-width="2" opacity="0.8"/>
      <!-- whole silhouette (side face colour) -->
      <path d="M855.4 764.1 L921.3 679.6 L989.5 600 L1040 538.75 L1102.5 468.75 Q1112 460.5 1128 457.5 L1142.5 456.6 L1153.75 463 L1171.25 472.5 L1183.75 482.5 L1188.75 488 L1200 498.75 L1198 507 L1133.75 586.25 L1117.5 578.5 L1080 624.4 L911.5 817.7 L888.7 826.5 L883.9 817.7 L874 803 L866 783.6 L861 775.5 Z" fill="url(#upSide)"/>
      <!-- bottom strip -->
      <path d="M1188.75 488 L1200 498.75 L1198 507 L1133.75 586.25 L1117.5 578.5 L1080 624.4 L911.5 817.7 L905 815 L1002.5 704 L1080 614.6 Z" fill="#a1a1a2"/>
      <!-- top face -->
      <path d="M855.4 764.1 L921.3 679.6 L989.5 600 L1040 538.75 L1102.5 468.75 Q1112 460.5 1128 457.5 L1142.5 456.6 L1153.75 463 L1040 597 L963.5 681.25 L874.1 788.5 L866 783.6 L861 775.5 Z" fill="#a9abae"/>
      <!-- piping lines -->
      <path d="M1153.75 463 L1040 597 L963.5 681.25 L874.1 788.5" fill="none" stroke="#c6c7c9" stroke-width="1.8"/>
      <path d="M1155.2 464 L1041.4 598.2 L965 682.5 L875.5 789.8" fill="none" stroke="#8d8d8d" stroke-width="1" opacity="0.7"/>
      <path d="M1188.75 488 L1080 614.6 L1002.5 704 L908.2 816" fill="none" stroke="#c2c3c5" stroke-width="1.7"/>
      <path d="M1190 489.2 L1081.4 615.8 L1004 705.2 L909.8 817" fill="none" stroke="#858585" stroke-width="1" opacity="0.7"/>
      <path d="M1142.5 456.6 L1153.75 463 L1171.25 472.5 L1183.75 482.5 L1188.75 488 L1200 498.75" fill="none" stroke="#8b8b8b" stroke-width="1.3" opacity="0.8"/>
      <path d="M1188.75 488 L1200 498.75 L1198 507" fill="none" stroke="#6b6b6b" stroke-width="1.6"/>
      <path d="M888.7 826.5 L883.9 817.7 L874 803 L866 783.6" fill="none" stroke="#cfcfcf" stroke-width="1.6"/>
      <path d="M888.7 827 L911.5 818.2" fill="none" stroke="#c8c8c8" stroke-width="1.6"/>
    </g>
    <!-- hinge bolt -->
    <circle cx="920" cy="850" r="4.2" fill="#3f3f3f"/>
    <circle cx="920" cy="850" r="2" fill="#6a6a6a"/>
  </g>

  <!-- ===== ARROWS + LABEL ===== -->
  <g id="arrows">
    <path d="M1468 613.5 C1430 548 1355 501 1272 478.5" fill="none" stroke="#4b5cc4" stroke-width="9.7"/>
    <path d="M1230.5 466.6 L1282.3 459 L1272 473 L1270 483.5 L1271.8 498.2 Z" fill="#4b5cc4"/>
    <path d="M1501 725.9 C1503 775 1497 830 1468 879" fill="none" stroke="#4b5cc4" stroke-width="9.7"/>
    <path d="M1444.1 912.7 L1454.5 862.4 L1465 877 L1474 881 L1487.5 885.4 Z" fill="#4b5cc4"/>
    <text x="1384" y="679" font-size="32.5" fill="#4a3f3f" textLength="174" lengthAdjust="spacingAndGlyphs">6 positions</text>
  </g>

  <!-- ===== DETAIL BOX LEFT ===== -->
  <g id="boxL">
    <g clip-path="url(#clipL)">
      <rect x="122.5" y="1148" width="641" height="391" fill="#ffffff"/>
      <!-- light sliver (cushion behind) -->
      <path d="M440 1148 L530 1148 L528 1190 L470 1150 Z" fill="#dddddd"/>
      <!-- inner back wall -->
      <path d="M300 1204 L434 1166 L440 1160 L763.6 1368 L763.6 1380 L673.7 1412 L637.6 1430 L616.4 1438 L476 1340 L417.5 1299.5 L375 1272 L341 1238 Z" fill="url(#wallL)"/>
      <path d="M300 1204 L434 1166 L440 1160 L763.6 1368 L763.6 1380 L673.7 1412 L637.6 1430 L616.4 1438 L476 1340 L417.5 1299.5 L375 1272 L341 1238 Z" fill="url(#shadeL)"/>
      <!-- foot blocks -->
      <path d="M341 1237 L375 1250 L375 1272 L341 1258 Z" fill="#4c4c4c"/>
      <path d="M375 1262 L417.5 1282 L417.5 1300 L377 1281 Z" fill="#5d5d5d"/>
      <path d="M377 1281 L417.5 1300 L412 1304 L380 1290 Z" fill="#7d7d7d"/>
      <!-- left post of wall -->
      <path d="M368 1189 L388 1183 L388 1268 L368 1262 Z" fill="#6c6c6c"/>
      <circle cx="381.5" cy="1231" r="3" fill="#2f2f2f"/>
      <!-- bottom inner rail (dark top) -->
      <path d="M417.5 1286 L476 1322 L533.5 1340 L616.4 1404 L616.4 1438 L476 1340 L417.5 1299.5 Z" fill="#6a6a6a"/>
      <path d="M417.5 1286 L476 1322 L533.5 1340 L616.4 1404 L616.4 1438 L476 1340 L417.5 1299.5 Z" fill="url(#wrapA)" opacity="0.45"/>
      <path d="M560 1372 L575 1372 L616.4 1404 L616.4 1424 Z" fill="#3d3d3d"/>
      <!-- vertical support bars -->
      <rect x="485.5" y="1199" width="11.5" height="147" fill="#767676"/>
      <rect x="486.5" y="1199" width="3.5" height="147" fill="#8c8c8c"/>
      <rect x="616" y="1289" width="21.5" height="151" fill="#7e7e7e"/>
      <rect x="616" y="1289" width="7" height="151" fill="#5c5c5c"/>
      <rect x="629" y="1289" width="4" height="151" fill="#969696"/>
      <!-- top back rail -->
      <path d="M405 1140 L467.6 1148.5 L576 1220.7 L652.5 1265.4 L763.6 1336.6 L763.6 1373 L652.5 1301.5 L576 1256 L440 1167.6 L411 1148 Z" fill="url(#wrapA)"/>
      <path d="M405 1140 L467.6 1148.5 L576 1220.7 L652.5 1265.4 L763.6 1336.6 L763.6 1373 L652.5 1301.5 L576 1256 L440 1167.6 L411 1148 Z" fill="url(#shadeL)"/>
      <path d="M430 1140 L467.6 1148.5 L576 1220.7 L652.5 1265.4 L763.6 1336.6 L763.6 1348 L652.5 1276.5 L576 1232 L452 1154 L440 1148 Z" fill="#505050"/>
      <path d="M452 1154 L576 1232 L652.5 1276.5 L763.6 1348" fill="none" stroke="#8e8e8e" stroke-width="1.6" stroke-dasharray="9 5"/>
      <!-- dark woven panel top-left -->
      <path d="M122.5 1148 L440 1148 L436 1150 L147.6 1230.5 L137 1232 L122.5 1206 Z" fill="url(#darkWeave)"/>
      <!-- tube under panel -->
      <path d="M436 1149 L147.6 1229.5 L141 1239 L147.6 1248.5 L436 1168.5 Z" fill="#7b7b7b"/>
      <path d="M436 1149 L147.6 1229.5 L141 1239 L147.6 1248.5 L436 1168.5 Z" fill="url(#wrapB2)" opacity="0.6"/>
      <path d="M436 1155 L147.6 1235.5" fill="none" stroke="#a8a8a8" stroke-width="4" opacity="0.6"/>
      <path d="M436 1166.5 L147.6 1246.5" fill="none" stroke="#3e3e3e" stroke-width="3" opacity="0.55"/>
      <path d="M425 1148 L446 1148 L448 1166 L432 1170 Z" fill="#5a5a5a"/>
      <!-- right diagonal tube + ratchet teeth -->
      <path d="M524 1148 L540 1148 L546 1190 L527 1186 Z" fill="#333333"/>
      <path d="M537 1201 L546.5 1204 L551 1221 L538 1218 Z" fill="#2f2f2f"/>
      <path d="M549 1233 L559 1236 L564 1253 L550.5 1250 Z" fill="#2f2f2f"/>
      <path d="M560 1265 L570 1268 L575.5 1287 L562 1284 Z" fill="#2f2f2f"/>
      <path d="M572.5 1297 L582.5 1300 L588 1319 L574.5 1316 Z" fill="#2f2f2f"/>
      <path d="M586 1331 L595 1334 L600 1351 L588 1348 Z" fill="#2f2f2f"/>
      <path d="M526 1148 L548.5 1148 L611.5 1350 L615 1366 L598 1366 L588.5 1350 Z" fill="#727272"/>
      <path d="M526 1148 L548.5 1148 L611.5 1350 L615 1366 L598 1366 L588.5 1350 Z" fill="url(#wrapB)" opacity="0.55"/>
      <path d="M541 1148 L604 1350" fill="none" stroke="#a6a6a6" stroke-width="4" opacity="0.65"/>
      <path d="M529 1148 L592 1350" fill="none" stroke="#3c3c3c" stroke-width="2.5" opacity="0.5"/>
      <!-- crossbars -->
      <path d="M232 1478.5 L597 1343.5 L606 1349 L612 1360 L236 1496 Z" fill="#5e5e5e"/>
      <path d="M232 1478.5 L597 1343.5 L606 1349 L612 1360 L236 1496 Z" fill="url(#wrapB2)" opacity="0.55"/>
      <path d="M234 1482 L598 1347.5" fill="none" stroke="#959595" stroke-width="4" opacity="0.7"/>
      <path d="M238 1494 L611 1357.5 L622 1366 L624 1376 L250 1516 Z" fill="#777777"/>
      <path d="M240 1496 L612 1360 L622 1366 L624 1376 L250 1516 Z" fill="url(#wrapB2)" opacity="0.55"/>
      <path d="M244 1501.5 L614 1366" fill="none" stroke="#a9a9a9" stroke-width="4.5" opacity="0.75"/>
      <path d="M250 1515 L624 1375.5" fill="none" stroke="#3f3f3f" stroke-width="3" opacity="0.6"/>
      <path d="M597 1343.5 L613 1340 L624 1358 L624 1376 L612 1362 Z" fill="#6e6e6e"/>
      <!-- front-right panel -->
      <path d="M383.5 1539 L440 1508 L525 1472 L610 1440 L673.7 1412.2 L763.6 1378.2 L763.6 1539 Z" fill="url(#panelF)"/>
      <path d="M383.5 1539 L440 1508 L525 1472 L610 1440 L673.7 1412.2 L763.6 1378.2 L763.6 1393 L673.7 1427 L610 1455 L525 1488 L440 1525 L415 1539 Z" fill="#9c9c9c"/>
      <path d="M390 1537 L440 1510 L525 1474 L610 1442 L673.7 1414.2 L763.6 1380.2" fill="none" stroke="#b4b4b4" stroke-width="3"/>
      <!-- ratchet teeth behind the light tube -->
      <path d="M122.5 1235 L126 1236 L131 1262 L124 1260 Z M137 1282 L143.5 1284 L146 1300 L139 1298 Z M150.5 1320 L157 1322 L159.5 1338 L152 1336 Z M164 1355 L170.5 1357 L173 1377 L166 1375 Z M175.5 1389 L182 1391 L184.5 1416 L177.5 1414 Z M188.5 1423 L195 1425 L197 1437 L191 1435 Z" fill="#343434"/>
      <!-- light diagonal tube -->
      <path d="M122.5 1204 L128 1204 L140.6 1230 L174.4 1312.5 L198.75 1387.5 L215.6 1443.75 L232 1482 L214 1480 L195 1443.75 L176.25 1387.5 L148 1312.5 L123.75 1230 L122.5 1222 Z" fill="url(#wrapC)"/>
      <path d="M123.75 1230 L148 1312.5 L176.25 1387.5 L195 1443.75 L214 1480" fill="none" stroke="#7a7a7a" stroke-width="4.5" opacity="0.5"/>
      <path d="M132 1230 L162 1312.5 L188.5 1387.5 L206.5 1443.75 L224 1480" fill="none" stroke="#d4d4d4" stroke-width="5" opacity="0.55"/>
      <path d="M140.6 1230 L174.4 1312.5 L198.75 1387.5 L215.6 1443.75 L232 1482" fill="none" stroke="#8a8a8a" stroke-width="2" opacity="0.5"/>
      <!-- front-left panel -->
      <path d="M122.5 1363.4 L287.9 1539.1 L122.5 1539.1 Z" fill="url(#panelFL)"/>
      <path d="M122.5 1363.4 L287.9 1539.1 L250 1539.1 L122.5 1403 Z" fill="#9a9a9a"/>
      <path d="M122.5 1383 L268 1539" fill="none" stroke="#c6c6c6" stroke-width="2.5"/>
      <path d="M122.5 1363.4 L287.9 1539.1" fill="none" stroke="#8a8a8a" stroke-width="2"/>
    </g>
    <rect x="122.6" y="1148.3" width="641.1" height="390.8" rx="18" fill="none" stroke="#5c5c5c" stroke-width="1"/>
  </g>

  <!-- ===== DETAIL BOX RIGHT ===== -->
  <g id="boxR">
    <g clip-path="url(#clipR)">
      <rect x="844.5" y="1148" width="641" height="391" fill="#ffffff"/>
      <!-- big gray band base -->
      <path d="M844.5 1148 L1128.4 1148 L1485.5 1364.4 L1485.5 1539 L1221.6 1539 L1180 1504.7 L998.3 1376.1 L982.4 1382.5 L919.7 1331 L916.5 1320.6 L854.9 1288.7 L844.5 1269.6 Z" fill="#767676"/>
      <!-- inner back wall -->
      <path d="M942 1196 L1027 1170 L1180 1244 L1423.5 1410 L1485.5 1452 L1485.5 1539 L1300 1539 L1133 1431 L965 1340 L942 1322 Z" fill="url(#wallR)"/>
      <path d="M942 1196 L1027 1170 L1180 1244 L1423.5 1410 L1485.5 1452 L1485.5 1539 L1300 1539 L1133 1431 L965 1340 L942 1322 Z" fill="url(#shadeR)"/>
      <!-- small left wall section + posts -->
      <path d="M861 1222 L897 1206 L897 1262 L861 1250 Z" fill="#4e4e4e"/>
      <path d="M897 1200 L942 1190 L942 1324 L910 1312 L897 1270 Z" fill="#858585"/>
      <path d="M897 1200 L910 1197 L910 1312 L897 1270 Z" fill="#6c6c6c"/>
      <circle cx="933" cy="1263" r="4.5" fill="#2e2e2e"/>
      <!-- bottom rail left part and feet -->
      <path d="M844.5 1236 L897 1262 L910 1312 L965 1340 L1133 1431 L1180 1459 L1270 1525 L1290 1539 L1221.6 1539 L1180 1504.7 L998.3 1376.1 L944 1338 L916.5 1320.6 L854.9 1288.7 L844.5 1269.6 Z" fill="url(#wrapR2)"/>
      <path d="M854.9 1272 L918.6 1302 L918.6 1321 L854.9 1288.7 Z" fill="#888a8d"/>
      <path d="M854.9 1268 L862 1266 L921 1296 L918.6 1302 L854.9 1272 Z" fill="#9ea0a3"/>
      <path d="M919.7 1314 L998.3 1362 L998.3 1376.1 L982.4 1382.5 L919.7 1331 Z" fill="#888a8d"/>
      <path d="M919.7 1309 L926 1307 L1001 1356 L998.3 1362 L919.7 1314 Z" fill="#a0a2a5"/>
      <!-- vertical bars -->
      <rect x="1131" y="1222" width="21" height="234" fill="#85878a"/>
      <rect x="1135" y="1222" width="8" height="234" fill="#999b9e"/>
      <rect x="1150" y="1222" width="3.5" height="234" fill="#4a4a4a"/>
      <!-- top rail -->
      <path d="M1000 1148 L1128.4 1148 L1485.5 1364.4 L1485.5 1452 L1423.5 1410 L1180 1244 L1027 1170 Z" fill="url(#wrapR1)"/>
      <path d="M1098 1148 L1128.4 1148 L1485.5 1364.4 L1485.5 1378 L1180 1187 L1115 1152 Z" fill="#646464"/>
      <path d="M1120 1151.5 L1180 1183 L1485.5 1373" fill="none" stroke="#8c8c8c" stroke-width="2.4" stroke-dasharray="14 9"/>
      <path d="M1050 1163 L1180 1216 L1423.5 1369 L1485.5 1412" fill="none" stroke="#4c4c4c" stroke-width="2.2" opacity="0.8"/>
      <!-- dark woven panel top-left + tube -->
      <path d="M844.5 1148 L1060 1148 L1037.6 1151 L844.5 1204 Z" fill="url(#darkWeaveR)"/>
      <path d="M844.5 1203.7 L1037.6 1150.6 L1052 1150 L1060 1160 L1039.7 1168 L844.5 1233.5 Z" fill="url(#wrapR3)"/>
      <path d="M844.5 1212 L1040 1157" fill="none" stroke="#b8b8b8" stroke-width="7" opacity="0.5"/>
      <path d="M844.5 1232 L1040 1167" fill="none" stroke="#3f3f3f" stroke-width="3" opacity="0.45"/>
      <path d="M844.5 1234 L897 1216 L942 1196 L1027 1170 L1039.7 1168 L844.5 1242 Z" fill="#4a4a4a" opacity="0.6"/>
      <!-- bracket -->
      <path d="M1388.4 1385.7 L1423.5 1410 L1421 1539 L1400 1539 L1396 1470 L1388.4 1440 Z" fill="#9d9fa1"/>
      <path d="M1388.4 1385.7 L1396 1391 L1402 1539 L1400 1539 L1396 1470 L1388.4 1440 Z" fill="#7d7f81"/>
      <circle cx="1391" cy="1452" r="7" fill="#8a8a8a"/>
      <circle cx="1391" cy="1452" r="3.2" fill="#4a4a4a"/>
      <!-- ratchet teeth -->
      <path d="M1224.8 1148 L1232 1148 L1247 1196 L1240 1208 L1232 1200 L1228 1210 L1220.6 1204 Z" fill="#3b3b3f"/>
      <path d="M1245 1212 L1250 1208 L1269 1258 L1262 1266 L1256 1258 L1250 1266 L1242 1258 Z" fill="#3b3b3f"/>
      <path d="M1268 1278 L1273 1274 L1291 1316 L1284 1324 L1278 1316 L1272 1323 L1265 1314 Z" fill="#3b3b3f"/>
      <path d="M1287 1342 L1293 1338 L1311 1378 L1304 1386 L1298 1379 L1292 1386 L1285 1376 Z" fill="#3b3b3f"/>
      <path d="M1309 1404 L1315 1400 L1333 1440 L1326 1448 L1320 1441 L1314 1448 L1307 1438 Z" fill="#3b3b3f"/>
      <path d="M1331 1466 L1337 1462 L1355 1500 L1348 1507 L1342 1500 L1336 1507 L1329 1497 Z" fill="#3b3b3f"/>
      <!-- main tube -->
      <path d="M1230 1148 L1265.5 1148 L1340.6 1350 L1396 1488.7 L1410 1520 L1408 1539 L1370 1539 L1362 1506 L1351 1488.7 L1296 1350 Z" fill="url(#tubeBands)"/>
      <path d="M1230 1148 L1265.5 1148 L1340.6 1350 L1396 1488.7 L1410 1520 L1408 1539 L1370 1539 L1362 1506 L1351 1488.7 L1296 1350 Z" fill="url(#tubeShade)"/>
      <path d="M1254 1148 L1328 1350 L1384 1490" fill="none" stroke="#a2a2a2" stroke-width="7" opacity="0.55"/>
      <path d="M1232 1148 L1298 1350 L1353 1490" fill="none" stroke="#3e3e3e" stroke-width="5" opacity="0.45"/>
      <path d="M1226 1148 L1291 1350 L1347 1492" fill="none" stroke="#55585c" stroke-width="2"/>
      <!-- bottom tube to lower-left -->
      <path d="M1245 1539 L1279 1527 L1355.5 1501.5 L1390 1500 L1408 1520 L1408 1539 Z" fill="url(#wrapR3)"/>
      <path d="M1250 1539 L1281 1530 L1357 1505" fill="none" stroke="#b0b0b0" stroke-width="4" opacity="0.5"/>
    </g>
    <rect x="844.3" y="1148.3" width="641.2" height="390.8" rx="18" fill="none" stroke="#5c5c5c" stroke-width="1"/>
  </g>
</svg>
</body>
</html>
